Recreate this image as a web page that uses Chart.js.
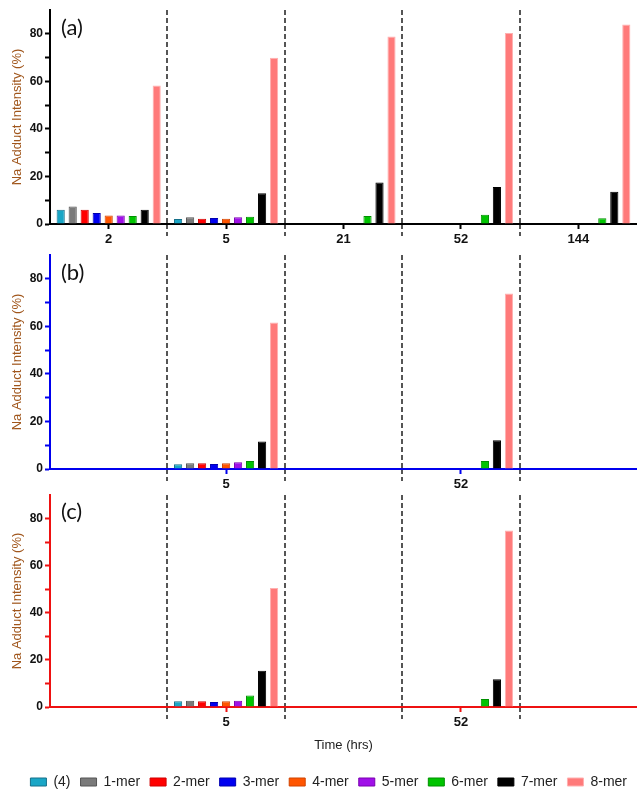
<!DOCTYPE html>
<html>
<head>
<meta charset="utf-8">
<title>Na adduct intensity</title>
<script src="https://cdn.jsdelivr.net/npm/chart.js@4.4.0/dist/chart.umd.min.js"></script>
<style>
  html, body { margin: 0; padding: 0; background: #fff; }
  body { width: 637px; height: 789px; overflow: hidden; position: relative; }
  .panel { position: absolute; left: 0; width: 637px; }
  .tag { position: absolute; left: 61px; font-family: Lato, 'Open Sans', sans-serif; font-size: 22px; line-height: 1; color: #111; }
</style>
</head>
<body>
<div class="panel" style="top:0;height:252px"><canvas id="chartA"></canvas></div>
<div class="panel" style="top:245px;height:252px"><canvas id="chartB"></canvas></div>
<div class="panel" style="top:485px;height:314px"><canvas id="chartC"></canvas></div>
<div class="tag" style="top:16px">(a)</div>
<div class="tag" style="top:261px">(b)</div>
<div class="tag" style="top:500px">(c)</div>

<script>
// time points (hrs)
const hoursA = ['2', '5', '21', '52', '144'];
const hoursBC = ['', '5', '', '52', ''];

const seriesNames = ['(4)', '1-mer', '2-mer', '3-mer', '4-mer', '5-mer', '6-mer', '7-mer', '8-mer'];
const fillColors = ['#1aa6c6', '#7a7a7a', '#ff0000', '#0000f0', '#ff5500', '#a010e8', '#00c400', '#000000', '#ff7a7a'];
const edgeColors = ['#16708a', '#555555', '#d00000', '#0000b0', '#d04400', '#7a00b0', '#009000', '#000000', '#ffb0b0'];

const yLabels = [0, 20, 40, 60, 80];

// one row per series, one column per time point
const valuesA = [
  [6.0, 2.1, null, null, null],
  [7.4, 2.8, null, null, null],
  [6.0, 2.2, null, null, null],
  [4.6, 2.5, null, null, null],
  [3.6, 2.2, null, null, null],
  [3.6, 2.8, null, null, null],
  [3.4, 3.1, 3.4, 3.9, 2.4],
  [6.0, 12.9, 17.5, 15.6, 13.6],
  [58.2, 69.9, 78.9, 80.3, 83.9]
];
const valuesB = [
  [null, 2.0, null, null, null],
  [null, 2.4, null, null, null],
  [null, 2.4, null, null, null],
  [null, 2.1, null, null, null],
  [null, 2.4, null, null, null],
  [null, 2.8, null, null, null],
  [null, 3.4, null, 3.4, null],
  [null, 11.6, null, 12.1, null],
  [null, 61.6, null, 73.8, null]
];
const valuesC = [
  [null, 2.4, null, null, null],
  [null, 2.7, null, null, null],
  [null, 2.4, null, null, null],
  [null, 2.1, null, null, null],
  [null, 2.4, null, null, null],
  [null, 2.7, null, null, null],
  [null, 4.9, null, 3.4, null],
  [null, 15.4, null, 11.8, null],
  [null, 50.5, null, 74.9, null]
];

Chart.defaults.font.family = "'Liberation Sans', Arial, sans-serif";
Chart.defaults.animation = false;

function makePanel(canvasId, labels, values, axisColor, footer) {
  const datasets = values.map((row, i) => ({
    label: seriesNames[i],
    data: row,
    xAxisID: 'x',
    backgroundColor: fillColors[i],
    borderColor: edgeColors[i],
    borderWidth: 1,
    categoryPercentage: 0.92,
    barPercentage: 0.68
  }));

  const sepColor = (c) => (c.index > 0 && c.index < labels.length) ? '#555555' : 'rgba(0,0,0,0)';

  return new Chart(document.getElementById(canvasId), {
    type: 'bar',
    data: { labels: labels, datasets: datasets },
    options: {
      responsive: true,
      maintainAspectRatio: false,
      layout: { padding: { top: 10, left: 0, right: 0, bottom: 0 } },
      scales: {
        x: {
          type: 'category',
          position: 'bottom',
          offset: true,
          grid: {
            offset: false,
            drawOnChartArea: false,
            color: 'rgba(0,0,0,0)',
            tickLength: 5,
            tickWidth: 2,
            tickColor: (c) => labels[c.index] ? axisColor : 'rgba(0,0,0,0)'
          },
          border: { color: axisColor, width: 2 },
          ticks: { color: '#111', font: { size: 13, weight: 'bold' }, padding: 3, autoSkip: false, maxRotation: 0 },
          title: footer
            ? { display: true, text: 'Time (hrs)', color: '#222', font: { size: 13 }, padding: { top: 0, bottom: 12 } }
            : { display: false },
          afterFit: (s) => { s.height = footer ? 58 : 28; }
        },
        xSep: {
          type: 'category',
          axis: 'x',
          position: { y: 0 },
          offset: true,
          grid: {
            offset: true,
            drawOnChartArea: true,
            color: sepColor,
            lineWidth: 2,
            drawTicks: true,
            tickLength: 12,
            tickWidth: 2,
            tickColor: sepColor,
            tickBorderDash: [5, 3]
          },
          border: { display: false, dash: [5, 3] },
          ticks: { display: false }
        },
        y: {
          min: 0,
          max: 90,
          ticks: {
            stepSize: 10,
            callback: (v) => yLabels.includes(v) ? v : '',
            color: '#111',
            font: { size: 12, weight: 'bold' },
            padding: 2
          },
          grid: {
            drawOnChartArea: false,
            tickLength: 5,
            tickWidth: 2,
            tickColor: (c) => (c.tick && c.tick.value < 90) ? axisColor : 'rgba(0,0,0,0)'
          },
          border: { color: axisColor, width: 2 },
          title: { display: true, text: 'Na Adduct Intensity (%)', color: '#a0561c', font: { size: 13 }, padding: { top: 10, bottom: 0 } },
          afterFit: (s) => { s.width = 50; }
        }
      },
      plugins: {
        legend: {
          display: footer,
          position: 'bottom',
          align: 'end',
          labels: { boxWidth: 16, boxHeight: 8, padding: 10, color: '#222', font: { size: 14 } }
        },
        tooltip: { enabled: false }
      }
    }
  });
}

makePanel('chartA', hoursA, valuesA, '#000000', false);
makePanel('chartB', hoursBC, valuesB, '#0000ee', false);
makePanel('chartC', hoursBC, valuesC, '#ee1111', true);
</script>
</body>
</html>
